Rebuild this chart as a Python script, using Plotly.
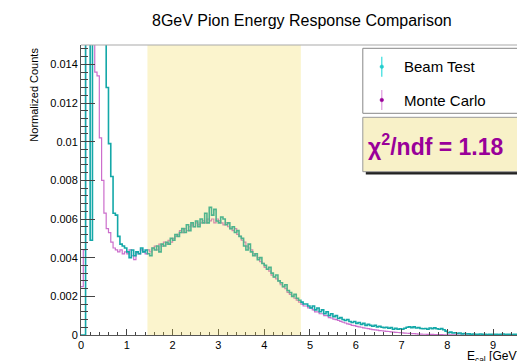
import numpy as np
import plotly.graph_objects as go

# ---------------- data ----------------
BIN_WIDTH = 0.05  # GeV, bins start at 0
beam_test = [
    0, 0, 0.045, 0.042, 0.0049, 0.032, 0.028, 0.024, 0.020, 0.017,
    0.0155, 0.0128, 0.0099, 0.0082, 0.0063, 0.0062, 0.0051, 0.0047, 0.0046, 0.0045,
    0.0043, 0.0040, 0.0044, 0.0041, 0.0043, 0.0042, 0.0045, 0.0043, 0.0044, 0.0042,
    0.0041, 0.0045, 0.0044, 0.0046, 0.0043, 0.0047, 0.0046, 0.0048, 0.0047, 0.0050,
    0.0049, 0.0052, 0.0051, 0.0053, 0.0055, 0.0053, 0.0057, 0.0054, 0.0058, 0.0056,
    0.0059, 0.0056, 0.0060, 0.0058, 0.0063, 0.0058, 0.0066, 0.0062, 0.0065, 0.0059,
    0.0058, 0.0061, 0.0060, 0.0057, 0.0058, 0.0055, 0.0056, 0.0053, 0.0054, 0.0051,
    0.0050, 0.0046, 0.0044, 0.0047, 0.0043, 0.0041, 0.0042, 0.0039, 0.0040, 0.0037,
    0.0036, 0.0034, 0.0035, 0.0032, 0.0030, 0.0031, 0.0028, 0.0027, 0.0025, 0.0026,
    0.0023, 0.0022, 0.0020, 0.0021, 0.0019, 0.0018, 0.0017, 0.0016, 0.0016, 0.0015,
    0.0014, 0.0015, 0.0013, 0.0014, 0.0012, 0.0013, 0.0011, 0.0012, 0.0010, 0.0011,
    0.00095, 0.0010, 0.00085, 0.0009, 0.0008, 0.00075, 0.0008, 0.0007, 0.00065, 0.0007,
    0.0006, 0.00065, 0.00055, 0.0006, 0.0005, 0.00055, 0.0005, 0.00045, 0.0005, 0.00042,
    0.00045, 0.0004, 0.00038, 0.0004, 0.00035, 0.00038, 0.0003, 0.00035, 0.0003, 0.00032,
    0.0003, 0.00035, 0.0004, 0.00042, 0.00038, 0.00042, 0.00036, 0.00038, 0.00034, 0.00032,
    0.00034, 0.0003, 0.00036, 0.00033, 0.00037, 0.00032, 0.0003, 0.00033, 0.00027, 0.0002,
    0.00012, 0.00015, 0.0001, 0.00012, 0.00008, 0.0001, 0.00006, 0.00008, 0.00005, 0.00006,
    0.00004, 0.00005, 0.00003, 0.00004, 0.00005, 0.00003, 0.00004, 0.00002, 0.00004, 0.00003,
    0.00003, 0.00004, 0.00002, 0.00003, 0.00005, 0.00002, 0.00003, 0.00004, 0.00002, 0.00003,
    0.00003,
]
monte_carlo = [
    0.0025, 0.0044, 0.05, 0.05, 0.045, 0.04, 0.0136, 0.0134, 0.0102, 0.0080,
    0.0063, 0.0055, 0.0053, 0.0048, 0.0045, 0.0044, 0.0043, 0.0044, 0.0042, 0.0043,
    0.0042, 0.0044, 0.0041, 0.0039, 0.0043, 0.0042, 0.0044, 0.0043, 0.0042, 0.0044,
    0.0043, 0.0045, 0.0046, 0.0044, 0.0047, 0.0046, 0.0048, 0.0047, 0.0049, 0.0048,
    0.0050, 0.0051, 0.0052, 0.0054, 0.0053, 0.0055, 0.0054, 0.0056, 0.0057, 0.0056,
    0.0058, 0.0057, 0.0058, 0.0059, 0.0058, 0.0060, 0.0059, 0.0060, 0.0058, 0.0060,
    0.0059, 0.0058, 0.0057, 0.0058, 0.0056, 0.0055, 0.0054, 0.0055, 0.0052, 0.0051,
    0.0049, 0.0048, 0.0046, 0.0045, 0.0044, 0.0042, 0.0041, 0.0040, 0.0038, 0.0037,
    0.0035, 0.0034, 0.0033, 0.0031, 0.0030, 0.0029, 0.0028, 0.0026, 0.0025, 0.0024,
    0.0022, 0.0021, 0.0020, 0.0019, 0.0018, 0.0017, 0.0016, 0.0015, 0.0015, 0.0014,
    0.0014, 0.0013, 0.0012, 0.0012, 0.0011, 0.0011, 0.0010, 0.0010, 0.0009, 0.00088,
    0.00082, 0.0008, 0.00075, 0.0007, 0.00066, 0.00062, 0.00058, 0.00055, 0.0005, 0.00048,
    0.00045, 0.00042, 0.0004, 0.00037, 0.00035, 0.00033, 0.0003, 0.00028, 0.00027, 0.00025,
    0.00023, 0.00022, 0.0002, 0.00019, 0.00018, 0.00016, 0.00015, 0.00014, 0.00013, 0.00012,
    0.00011, 0.0001, 0.00009, 0.00008, 0.00007, 0.00007, 0.00006, 0.00005, 0.00005, 0.00004,
    0.00004, 0.00003, 0.00003, 0.00003, 0.00002, 0.00002, 0.00002, 0.00002, 0.00001, 0.00001,
    0.00001, 0.00001, 0.00001, 0.00001, 0, 0, 0, 0, 0, 0,
    0, 0, 0, 0, 0, 0, 0, 0, 0, 0,
    0, 0, 0, 0, 0, 0, 0, 0, 0, 0,
    0,
]
fit_range = [1.45, 4.8]
chi2_ndf = 1.18
x_tick_vals = [0, 1, 2, 3, 4, 5, 6, 7, 8, 9]
x_tick_text = ["0", "1", "2", "3", "4", "5", "6", "7", "8", "9"]
y_tick_vals = [0, 0.002, 0.004, 0.006, 0.008, 0.010, 0.012, 0.014]
y_tick_text = ["0", "0.002", "0.004", "0.006", "0.008", "0.01", "0.012", "0.014"]
series_names = ["Beam Test", "Monte Carlo"]
title_text = "8GeV Pion Energy Response Comparison"

# ---------------- layout geometry ----------------
W, H = 517, 361
L, T, B = 80.7, 45, 26
PW, PH = W - L, H - T - B
XMAX = 9.52
YMAX = 0.015
FONT = "Liberation Sans, Arial, Helvetica, sans-serif"
TEAL = "rgb(20,168,168)"
MAG = "rgb(204,110,204)"


def px(xp):  # pixel -> paper x
    return (xp - L) / PW


def py(yp):  # pixel -> paper y
    return (H - B - yp) / PH


def step_xy(vals):
    v = list(vals)
    edges = np.arange(len(v) + 1) * BIN_WIDTH
    return edges, v + [v[-1]]


fig = go.Figure()
xm, ym = step_xy(monte_carlo)
fig.add_trace(go.Scatter(x=xm, y=ym, mode="lines", line=dict(color=MAG, width=1.2, shape="hv"),
                         name=series_names[1], showlegend=False, hoverinfo="skip"))
xb, yb = step_xy(beam_test)
fig.add_trace(go.Scatter(x=xb, y=yb, mode="lines", line=dict(color=TEAL, width=1.6, shape="hv"),
                         name=series_names[0], showlegend=False, hoverinfo="skip"))

shapes = []
# fit range band (semi-transparent overlay)
shapes.append(dict(type="rect", xref="x", yref="paper", x0=fit_range[0], x1=fit_range[1], y0=0, y1=1,
                   fillcolor="rgba(240,214,70,0.27)", line=dict(width=0), layer="above"))
# top frame line
shapes.append(dict(type="line", xref="paper", yref="paper", x0=0, x1=1, y0=1, y1=1,
                   line=dict(color="#aaaaaa", width=1.2), layer="above"))
# legend box
shapes.append(dict(type="rect", xref="paper", yref="paper", x0=px(362.7), x1=px(530), y0=py(113.3), y1=py(48.3),
                   fillcolor="white", line=dict(color="#888888", width=1), layer="above"))
# chi2 box shadow + box
shapes.append(dict(type="rect", xref="paper", yref="paper", x0=px(365.7), x1=px(533), y0=py(174.5), y1=py(120.3),
                   fillcolor="#222222", line=dict(width=0), layer="above"))
shapes.append(dict(type="rect", xref="paper", yref="paper", x0=px(362.7), x1=px(530), y0=py(171.7), y1=py(117.3),
                   fillcolor="#f8f1c8", line=dict(color="#999999", width=1), layer="above"))
# legend markers
for yc, lc, mc in [(66.7, "#33dddd", "#22cccc"), (100, "#dd99dd", "#990099")]:
    shapes.append(dict(type="line", xref="paper", yref="paper", x0=px(381.7), x1=px(381.7),
                       y0=py(yc + 10), y1=py(yc - 10), line=dict(color=lc, width=1.2), layer="above"))
    shapes.append(dict(type="circle", xref="paper", yref="paper", xsizemode="pixel", ysizemode="pixel",
                       xanchor=px(381.7), yanchor=py(yc), x0=-1.8, x1=1.8, y0=-1.8, y1=1.8,
                       fillcolor=mc, line=dict(color=mc, width=0.5), layer="above"))

annotations = [
    dict(text=title_text, xref="paper", yref="paper", x=px(301.7), y=py(20.7), showarrow=False,
         xanchor="center", yanchor="middle", font=dict(family=FONT, size=16, color="black")),
    dict(text="Normalized Counts", xref="paper", yref="paper", x=px(33.3), y=py(95), showarrow=False,
         textangle=-90, xanchor="center", yanchor="middle", font=dict(family=FONT, size=11, color="black")),
    dict(text="E<sub>cal</sub> [GeV]", xref="paper", yref="paper", x=px(465), y=py(347), showarrow=False,
         xanchor="left", yanchor="top", font=dict(family=FONT, size=12, color="black")),
    dict(text=series_names[0], xref="paper", yref="paper", x=px(401.7), y=py(66.7), showarrow=False,
         xanchor="left", yanchor="middle", font=dict(family=FONT, size=15, color="black")),
    dict(text=series_names[1], xref="paper", yref="paper", x=px(401.7), y=py(100), showarrow=False,
         xanchor="left", yanchor="middle", font=dict(family=FONT, size=15, color="black")),
    dict(text="<b>\u03c7<sup>2</sup>/ndf = %.2f</b>" % chi2_ndf, xref="paper", yref="paper",
         x=px(366), y=py(144.5), showarrow=False, xanchor="left", yanchor="middle",
         font=dict(family=FONT, size=23, color="#990099")),
]

fig.update_layout(
    width=W, height=H,
    margin=dict(l=L, r=0, t=T, b=B, pad=0),
    paper_bgcolor="white", plot_bgcolor="white",
    showlegend=False,
    shapes=shapes, annotations=annotations,
    xaxis=dict(range=[0, XMAX], tickvals=x_tick_vals, ticktext=x_tick_text, ticks="inside", ticklen=6,
               tickcolor="#444", tickwidth=1, showgrid=False, zeroline=False,
               showline=True, linecolor="#555", linewidth=1,
               minor=dict(dtick=0.2, tick0=0, ticks="inside", ticklen=3.5, tickcolor="#444", showgrid=False),
               tickfont=dict(family=FONT, size=11, color="black"), fixedrange=True),
    yaxis=dict(range=[0, YMAX], tickvals=y_tick_vals, ticktext=y_tick_text, ticks="inside", ticklen=14,
               tickcolor="#444", tickwidth=1, showgrid=False, zeroline=False,
               showline=True, linecolor="#555", linewidth=1,
               minor=dict(dtick=0.0004, tick0=0, ticks="inside", ticklen=7, tickcolor="#444", showgrid=False),
               tickfont=dict(family=FONT, size=11, color="black"), fixedrange=True),
)

fig.write_html("out.html")
